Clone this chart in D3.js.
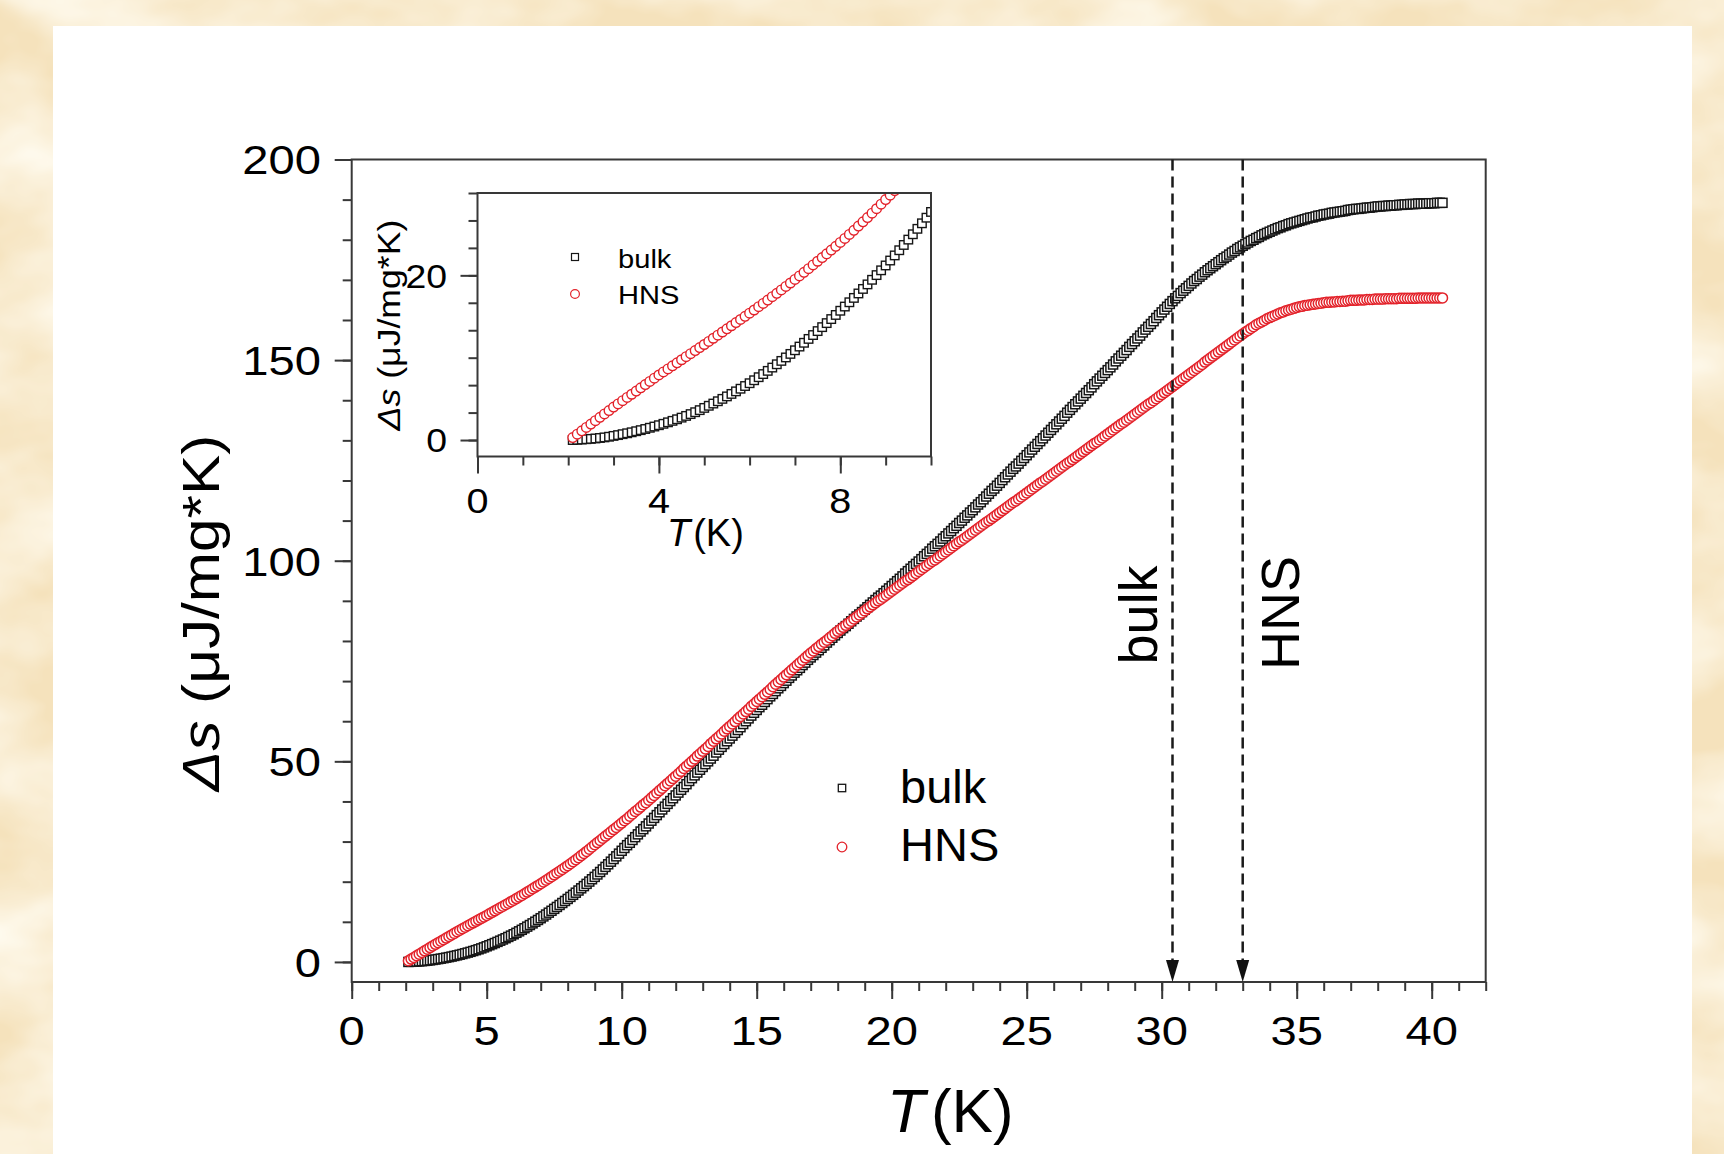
<!DOCTYPE html>
<html>
<head>
<meta charset="utf-8">
<script src="https://cdn.jsdelivr.net/npm/d3@7"></script>
<style>
html,body{margin:0;padding:0;background:#f5e1bb;}
svg{display:block;}
text{font-family:"Liberation Sans",Arial,Helvetica,sans-serif;fill:#000;}
</style>
</head>
<body>
<svg id="chart" width="1724" height="1154"></svg>
<script>
// ---------------- DATA ----------------
const temperatureK = [
2.1,2.2,2.3,2.4,2.5,2.6,2.7,2.8,2.9,3.0,
3.1,3.2,3.3,3.4,3.5,3.6,3.7,3.8,3.9,4.0,
4.1,4.2,4.3,4.4,4.5,4.6,4.7,4.8,4.9,5.0,
5.1,5.2,5.3,5.4,5.5,5.6,5.7,5.8,5.9,6.0,
6.1,6.2,6.3,6.4,6.5,6.6,6.7,6.8,6.9,7.0,
7.1,7.2,7.3,7.4,7.5,7.6,7.7,7.8,7.9,8.0,
8.1,8.2,8.3,8.4,8.5,8.6,8.7,8.8,8.9,9.0,
9.1,9.2,9.3,9.4,9.5,9.6,9.7,9.8,9.9,10.0,
10.1,10.2,10.3,10.4,10.5,10.6,10.7,10.8,10.9,11.0,
11.1,11.2,11.3,11.4,11.5,11.6,11.7,11.8,11.9,12.0,
12.1,12.2,12.3,12.4,12.5,12.6,12.7,12.8,12.9,13.0,
13.1,13.2,13.3,13.4,13.5,13.6,13.7,13.8,13.9,14.0,
14.1,14.2,14.3,14.4,14.5,14.6,14.7,14.8,14.9,15.0,
15.1,15.2,15.3,15.4,15.5,15.6,15.7,15.8,15.9,16.0,
16.1,16.2,16.3,16.4,16.5,16.6,16.7,16.8,16.9,17.0,
17.1,17.2,17.3,17.4,17.5,17.6,17.7,17.8,17.9,18.0,
18.1,18.2,18.3,18.4,18.5,18.6,18.7,18.8,18.9,19.0,
19.1,19.2,19.3,19.4,19.5,19.6,19.7,19.8,19.9,20.0,
20.1,20.2,20.3,20.4,20.5,20.6,20.7,20.8,20.9,21.0,
21.1,21.2,21.3,21.4,21.5,21.6,21.7,21.8,21.9,22.0,
22.1,22.2,22.3,22.4,22.5,22.6,22.7,22.8,22.9,23.0,
23.1,23.2,23.3,23.4,23.5,23.6,23.7,23.8,23.9,24.0,
24.1,24.2,24.3,24.4,24.5,24.6,24.7,24.8,24.9,25.0,
25.1,25.2,25.3,25.4,25.5,25.6,25.7,25.8,25.9,26.0,
26.1,26.2,26.3,26.4,26.5,26.6,26.7,26.8,26.9,27.0,
27.1,27.2,27.3,27.4,27.5,27.6,27.7,27.8,27.9,28.0,
28.1,28.2,28.3,28.4,28.5,28.6,28.7,28.8,28.9,29.0,
29.1,29.2,29.3,29.4,29.5,29.6,29.7,29.8,29.9,30.0,
30.1,30.2,30.3,30.4,30.5,30.6,30.7,30.8,30.9,31.0,
31.1,31.2,31.3,31.4,31.5,31.6,31.7,31.8,31.9,32.0,
32.1,32.2,32.3,32.4,32.5,32.6,32.7,32.8,32.9,33.0,
33.1,33.2,33.3,33.4,33.5,33.6,33.7,33.8,33.9,34.0,
34.1,34.2,34.3,34.4,34.5,34.6,34.7,34.8,34.9,35.0,
35.1,35.2,35.3,35.4,35.5,35.6,35.7,35.8,35.9,36.0,
36.1,36.2,36.3,36.4,36.5,36.6,36.7,36.8,36.9,37.0,
37.1,37.2,37.3,37.4,37.5,37.6,37.7,37.8,37.9,38.0,
38.1,38.2,38.3,38.4,38.5,38.6,38.7,38.8,38.9,39.0,
39.1,39.2,39.3,39.4,39.5,39.6,39.7,39.8,39.9,40.0,
40.1,40.2,40.3,40.4];

const bulkDs = [
0.00,0.03,0.06,0.10,0.14,0.19,0.25,0.32,0.40,0.50,
0.60,0.71,0.82,0.94,1.07,1.20,1.34,1.49,1.64,1.80,
1.97,2.15,2.33,2.52,2.72,2.93,3.15,3.38,3.63,3.90,
4.16,4.43,4.71,5.00,5.30,5.60,5.91,6.23,6.56,6.90,
7.26,7.63,8.01,8.40,8.80,9.20,9.61,10.03,10.46,10.90,
11.35,11.81,12.28,12.75,13.23,13.71,14.20,14.69,15.19,15.70,
16.21,16.73,17.26,17.80,18.35,18.90,19.46,20.03,20.61,21.20,
21.80,22.42,23.05,23.69,24.34,24.99,25.65,26.32,27.00,27.70,
28.4,29.1,29.7,30.4,31.1,31.8,32.5,33.1,33.8,34.5,
35.2,35.9,36.6,37.3,38.0,38.7,39.4,40.1,40.8,41.5,
42.2,42.9,43.6,44.3,45.1,45.8,46.5,47.2,47.9,48.6,
49.3,50.0,50.7,51.4,52.2,52.9,53.6,54.3,55.0,55.7,
56.4,57.1,57.8,58.5,59.3,60.0,60.7,61.4,62.1,62.8,
63.5,64.1,64.8,65.5,66.2,66.8,67.5,68.2,68.8,69.5,
70.1,70.8,71.4,72.1,72.7,73.3,74.0,74.6,75.3,75.9,
76.5,77.1,77.7,78.3,78.9,79.6,80.2,80.8,81.4,82.0,
82.6,83.2,83.7,84.3,84.9,85.5,86.1,86.6,87.2,87.8,
88.4,89.0,89.6,90.2,90.8,91.3,91.9,92.5,93.1,93.7,
94.3,94.9,95.5,96.1,96.8,97.4,98.0,98.6,99.2,99.8,
100.4,101.1,101.7,102.3,103.0,103.6,104.2,104.8,105.5,106.1,
106.8,107.4,108.1,108.7,109.4,110.0,110.7,111.3,112.0,112.6,
113.3,114.0,114.6,115.3,116.0,116.7,117.4,118.0,118.7,119.4,
120.1,120.8,121.5,122.2,122.9,123.5,124.2,124.9,125.6,126.3,
127.0,127.7,128.4,129.1,129.8,130.5,131.2,131.9,132.6,133.3,
134.0,134.7,135.4,136.1,136.9,137.6,138.3,139.0,139.7,140.4,
141.1,141.8,142.5,143.2,144.0,144.7,145.4,146.1,146.8,147.5,
148.2,148.9,149.7,150.4,151.1,151.8,152.5,153.3,154.0,154.7,
155.4,156.1,156.9,157.6,158.3,159.0,159.7,160.5,161.2,161.9,
162.6,163.3,164.0,164.7,165.4,166.0,166.7,167.3,167.9,168.5,
169.1,169.7,170.2,170.8,171.3,171.9,172.4,172.9,173.4,173.9,
174.4,174.9,175.4,175.8,176.3,176.8,177.2,177.7,178.1,178.5,
178.9,179.3,179.7,180.0,180.4,180.7,181.1,181.4,181.7,182.0,
182.3,182.6,182.9,183.1,183.4,183.6,183.9,184.1,184.3,184.5,
184.7,184.9,185.1,185.3,185.5,185.6,185.8,186.0,186.1,186.3,
186.4,186.5,186.7,186.8,186.9,187.0,187.1,187.2,187.4,187.5,
187.6,187.7,187.7,187.8,187.9,188.0,188.0,188.1,188.2,188.3,
188.3,188.4,188.4,188.5,188.5,188.6,188.6,188.7,188.7,188.8,
188.8,188.9,188.9,188.9,189.0,189.0,189.0,189.0,189.1,189.1,
189.1,189.2,189.2,189.2];

const hnsDs = [
0.30,0.71,1.12,1.53,1.94,2.35,2.76,3.17,3.58,4.00,
4.39,4.78,5.17,5.56,5.95,6.34,6.73,7.12,7.51,7.90,
8.27,8.64,9.01,9.38,9.75,10.12,10.49,10.86,11.23,11.60,
11.98,12.36,12.74,13.12,13.50,13.88,14.26,14.64,15.02,15.40,
15.79,16.19,16.59,17.00,17.41,17.82,18.23,18.65,19.07,19.50,
19.93,20.37,20.81,21.26,21.71,22.16,22.61,23.07,23.53,24.00,
24.48,24.97,25.47,25.98,26.50,27.02,27.55,28.09,28.64,29.20,
29.74,30.28,30.82,31.36,31.90,32.44,32.98,33.52,34.06,34.60,
35.2,35.7,36.3,36.9,37.5,38.0,38.6,39.2,39.7,40.3,
40.9,41.5,42.1,42.7,43.3,43.9,44.5,45.1,45.7,46.3,
46.9,47.5,48.2,48.8,49.4,50.0,50.6,51.3,51.9,52.5,
53.1,53.7,54.4,55.0,55.6,56.2,56.8,57.5,58.1,58.7,
59.3,59.9,60.6,61.2,61.8,62.4,63.0,63.7,64.3,64.9,
65.5,66.1,66.7,67.3,67.9,68.6,69.2,69.8,70.4,71.0,
71.6,72.2,72.8,73.4,74.0,74.6,75.2,75.8,76.4,77.0,
77.5,78.1,78.6,79.2,79.7,80.2,80.8,81.3,81.9,82.4,
82.9,83.4,83.9,84.4,84.9,85.5,86.0,86.5,87.0,87.5,
88.0,88.5,89.0,89.5,90.0,90.4,90.9,91.4,91.9,92.4,
92.9,93.4,93.9,94.4,94.9,95.3,95.8,96.3,96.8,97.3,
97.8,98.3,98.8,99.3,99.8,100.2,100.7,101.2,101.7,102.2,
102.7,103.2,103.7,104.2,104.7,105.1,105.6,106.1,106.6,107.1,
107.6,108.1,108.6,109.1,109.6,110.0,110.5,111.0,111.5,112.0,
112.5,113.0,113.5,114.0,114.5,114.9,115.4,115.9,116.4,116.9,
117.4,117.9,118.4,118.9,119.4,119.8,120.3,120.8,121.3,121.8,
122.3,122.8,123.3,123.8,124.3,124.7,125.2,125.7,126.2,126.7,
127.2,127.7,128.2,128.7,129.2,129.6,130.1,130.6,131.1,131.6,
132.1,132.6,133.1,133.6,134.1,134.5,135.0,135.5,136.0,136.5,
137.0,137.5,138.0,138.5,139.0,139.4,139.9,140.4,140.9,141.4,
141.9,142.4,142.9,143.4,143.9,144.4,144.9,145.4,145.9,146.4,
146.9,147.4,147.9,148.4,148.9,149.5,150.0,150.5,151.0,151.5,
152.0,152.5,153.0,153.5,154.0,154.5,155.0,155.5,156.0,156.5,
157.0,157.4,157.9,158.3,158.8,159.2,159.5,159.9,160.3,160.6,
160.9,161.2,161.5,161.8,162.0,162.3,162.5,162.7,162.9,163.1,
163.3,163.4,163.6,163.7,163.8,163.9,164.0,164.1,164.2,164.3,
164.4,164.4,164.5,164.5,164.6,164.6,164.7,164.7,164.8,164.9,
164.9,164.9,165.0,165.0,165.0,165.1,165.1,165.1,165.2,165.2,
165.2,165.2,165.3,165.3,165.3,165.3,165.3,165.4,165.4,165.4,
165.4,165.4,165.4,165.4,165.5,165.5,165.5,165.5,165.5,165.5,
165.5,165.5,165.5,165.5];

const seriesNames = ["bulk", "HNS"];
const transitionTemps = [30.4, 33.0];          // dashed arrows
const transitionLabels = ["bulk", "HNS"];

const mainXTicks = [0, 5, 10, 15, 20, 25, 30, 35, 40];
const mainYTicks = [0, 50, 100, 150, 200];
const insetXTicks = [0, 4, 8];
const insetYTicks = [0, 20];

// ---------------- SETUP ----------------
const svg = d3.select("#chart");
const W = 1724, H = 1154;
const FRAME = "#383838";
const RED = "#e3222a";
const BLACK = "#161616";

const defs = svg.append("defs");
const filt = defs.append("filter").attr("id", "parch")
  .attr("x", 0).attr("y", 0).attr("width", "100%").attr("height", "100%");
filt.append("feTurbulence").attr("type", "fractalNoise")
  .attr("baseFrequency", "0.006 0.01").attr("numOctaves", 4).attr("seed", 7).attr("result", "n");
filt.append("feColorMatrix").attr("in", "n").attr("type", "matrix")
  .attr("values", "0 0 0 0 1  0 0 0 0 0.97  0 0 0 0 0.88  0 0 0 1.8 -0.55");

svg.append("rect").attr("width", W).attr("height", H).attr("fill", "#f5e2bc");
svg.append("rect").attr("width", W).attr("height", H).attr("fill", "#fff").attr("filter", "url(#parch)");
svg.append("rect").attr("x", 53).attr("y", 26).attr("width", 1639).attr("height", H - 26).attr("fill", "#ffffff");

const pts = temperatureK.map((t, i) => ({ t, bulk: bulkDs[i], hns: hnsDs[i] }));

// ---------------- MAIN PLOT ----------------
const x = d3.scaleLinear().domain([0, 42]).range([351.7, 1485.7]);
const y = d3.scaleLinear().domain([-5, 200]).range([982, 159.5]);

function styleAxis(g) {
  g.select(".domain").remove();
  g.selectAll(".tick line").attr("stroke", FRAME).attr("stroke-width", 2);
}

svg.append("g").attr("transform", `translate(0,${y(-5)})`)
  .call(d3.axisBottom(x).tickValues(d3.range(0, 43, 1)).tickSize(9).tickFormat(""))
  .call(styleAxis);
svg.append("g").attr("transform", `translate(0,${y(-5)})`)
  .call(d3.axisBottom(x).tickValues(mainXTicks).tickSize(17).tickFormat(""))
  .call(styleAxis);
svg.append("g").attr("transform", `translate(${x(0)},0)`)
  .call(d3.axisLeft(y).tickValues(d3.range(0, 201, 10)).tickSize(9).tickFormat(""))
  .call(styleAxis);
svg.append("g").attr("transform", `translate(${x(0)},0)`)
  .call(d3.axisLeft(y).tickValues(mainYTicks).tickSize(17).tickFormat(""))
  .call(styleAxis);

svg.append("g").selectAll("text").data(mainXTicks).join("text")
  .attr("transform", d => `translate(${x(d)},1045) scale(1.15,1)`)
  .attr("text-anchor", "middle").attr("font-size", 41).text(d => d);
svg.append("g").selectAll("text").data(mainYTicks).join("text")
  .attr("transform", d => `translate(321,${y(d) + 14.8}) scale(1.15,1)`)
  .attr("text-anchor", "end").attr("font-size", 41).text(d => d);

// axis titles
const xt = svg.append("text").attr("x", 887).attr("y", 1132).attr("font-size", 62);
xt.append("tspan").attr("font-style", "italic").text("T");
xt.append("tspan").attr("dx", 6).text("(K)");

const yt = svg.append("text").attr("transform", "translate(219,613) rotate(-90) scale(1.16,1)")
  .attr("text-anchor", "middle").attr("font-size", 52);
yt.append("tspan").attr("font-style", "italic").text("Δs");
yt.append("tspan").text(" (μJ/mg*K)");

// data
function drawSeries(g, xs, ys, sqSize, cr, sw) {
  g.append("g").selectAll("rect").data(pts).join("rect")
    .attr("x", d => xs(d.t) - sqSize / 2).attr("y", d => ys(d.bulk) - sqSize / 2)
    .attr("width", sqSize).attr("height", sqSize)
    .attr("fill", "#fff").attr("stroke", BLACK).attr("stroke-width", sw);
  g.append("g").selectAll("circle").data(pts).join("circle")
    .attr("cx", d => xs(d.t)).attr("cy", d => ys(d.hns)).attr("r", cr)
    .attr("fill", "#fff").attr("stroke", RED).attr("stroke-width", sw);
}
drawSeries(svg.append("g"), x, y, 9, 5, 1.5);

// frame
svg.append("rect").attr("x", x(0)).attr("y", y(200))
  .attr("width", x(42) - x(0)).attr("height", y(-5) - y(200))
  .attr("fill", "none").attr("stroke", FRAME).attr("stroke-width", 2);

// transition arrows
const arrowG = svg.append("g");
transitionTemps.forEach((t, i) => {
  const xp = x(t);
  arrowG.append("line").attr("x1", xp).attr("x2", xp).attr("y1", y(200)).attr("y2", y(-5) - 20)
    .attr("stroke", "#1a1a1a").attr("stroke-width", 2.5).attr("stroke-dasharray", "11,6");
  arrowG.append("path")
    .attr("d", `M${xp - 6.5},${y(-5) - 22} L${xp + 6.5},${y(-5) - 22} L${xp},${y(-5)} Z`)
    .attr("fill", "#111");
});
svg.append("text").attr("transform", "translate(1157,615) rotate(-90)")
  .attr("text-anchor", "middle").attr("font-size", 54).text(transitionLabels[0]);
svg.append("text").attr("transform", "translate(1299,613) rotate(-90)")
  .attr("text-anchor", "middle").attr("font-size", 54).text(transitionLabels[1]);

// main legend
svg.append("rect").attr("x", 842 - 3.7).attr("y", 788 - 3.7).attr("width", 7.4).attr("height", 7.4)
  .attr("fill", "#fff").attr("stroke", BLACK).attr("stroke-width", 1.3);
svg.append("circle").attr("cx", 842).attr("cy", 847).attr("r", 4.8)
  .attr("fill", "#fff").attr("stroke", RED).attr("stroke-width", 1.3);
svg.append("text").attr("x", 900).attr("y", 803).attr("font-size", 47).text(seriesNames[0]);
svg.append("text").attr("x", 900).attr("y", 861).attr("font-size", 47).text(seriesNames[1]);

// ---------------- INSET ----------------
const xi = d3.scaleLinear().domain([0, 10]).range([477.5, 931]);
const yi = d3.scaleLinear().domain([-2, 30]).range([456.5, 193]);

svg.append("rect").attr("x", xi(0)).attr("y", yi(30))
  .attr("width", xi(10) - xi(0)).attr("height", yi(-2) - yi(30)).attr("fill", "#fff");

defs.append("clipPath").attr("id", "insetClip").append("rect")
  .attr("x", xi(0)).attr("y", yi(30)).attr("width", xi(10) - xi(0)).attr("height", yi(-2) - yi(30));

svg.append("g").attr("transform", `translate(0,${yi(-2)})`)
  .call(d3.axisBottom(xi).tickValues(d3.range(0, 11, 1)).tickSize(9).tickFormat(""))
  .call(styleAxis);
svg.append("g").attr("transform", `translate(0,${yi(-2)})`)
  .call(d3.axisBottom(xi).tickValues(insetXTicks).tickSize(17).tickFormat(""))
  .call(styleAxis);
svg.append("g").attr("transform", `translate(${xi(0)},0)`)
  .call(d3.axisLeft(yi).tickValues(d3.range(0, 10).map(k => k * 10 / 3)).tickSize(9).tickFormat(""))
  .call(styleAxis);
svg.append("g").attr("transform", `translate(${xi(0)},0)`)
  .call(d3.axisLeft(yi).tickValues(insetYTicks).tickSize(17).tickFormat(""))
  .call(styleAxis);

svg.append("g").selectAll("text").data(insetXTicks).join("text")
  .attr("transform", d => `translate(${xi(d)},513) scale(1.1,1)`)
  .attr("text-anchor", "middle").attr("font-size", 36).text(d => d);
svg.append("g").selectAll("text").data(insetYTicks).join("text")
  .attr("transform", d => `translate(447,${yi(d) + 12.3}) scale(1.1,1)`)
  .attr("text-anchor", "end").attr("font-size", 34).text(d => d);

const ixt = svg.append("text").attr("x", 667).attr("y", 546).attr("font-size", 38);
ixt.append("tspan").attr("font-style", "italic").text("T");
ixt.append("tspan").attr("dx", 3).text("(K)");

const iyt = svg.append("text").attr("transform", "translate(400,325) rotate(-90) scale(1.15,1)")
  .attr("text-anchor", "middle").attr("font-size", 31);
iyt.append("tspan").attr("font-style", "italic").text("Δs");
iyt.append("tspan").text(" (μJ/mg*K)");

drawSeries(svg.append("g").attr("clip-path", "url(#insetClip)"), xi, yi, 8.5, 4.8, 1.4);

svg.append("rect").attr("x", xi(0)).attr("y", yi(30))
  .attr("width", xi(10) - xi(0)).attr("height", yi(-2) - yi(30))
  .attr("fill", "none").attr("stroke", FRAME).attr("stroke-width", 2);

// inset legend
svg.append("rect").attr("x", 575 - 3.5).attr("y", 257 - 3.5).attr("width", 7).attr("height", 7)
  .attr("fill", "#fff").attr("stroke", BLACK).attr("stroke-width", 1.2);
svg.append("circle").attr("cx", 575).attr("cy", 294).attr("r", 4.4)
  .attr("fill", "#fff").attr("stroke", RED).attr("stroke-width", 1.2);
svg.append("text").attr("transform", "translate(618,268) scale(1.12,1)").attr("font-size", 26).text(seriesNames[0]);
svg.append("text").attr("transform", "translate(618,304) scale(1.12,1)").attr("font-size", 26).text(seriesNames[1]);
</script>
</body>
</html>
